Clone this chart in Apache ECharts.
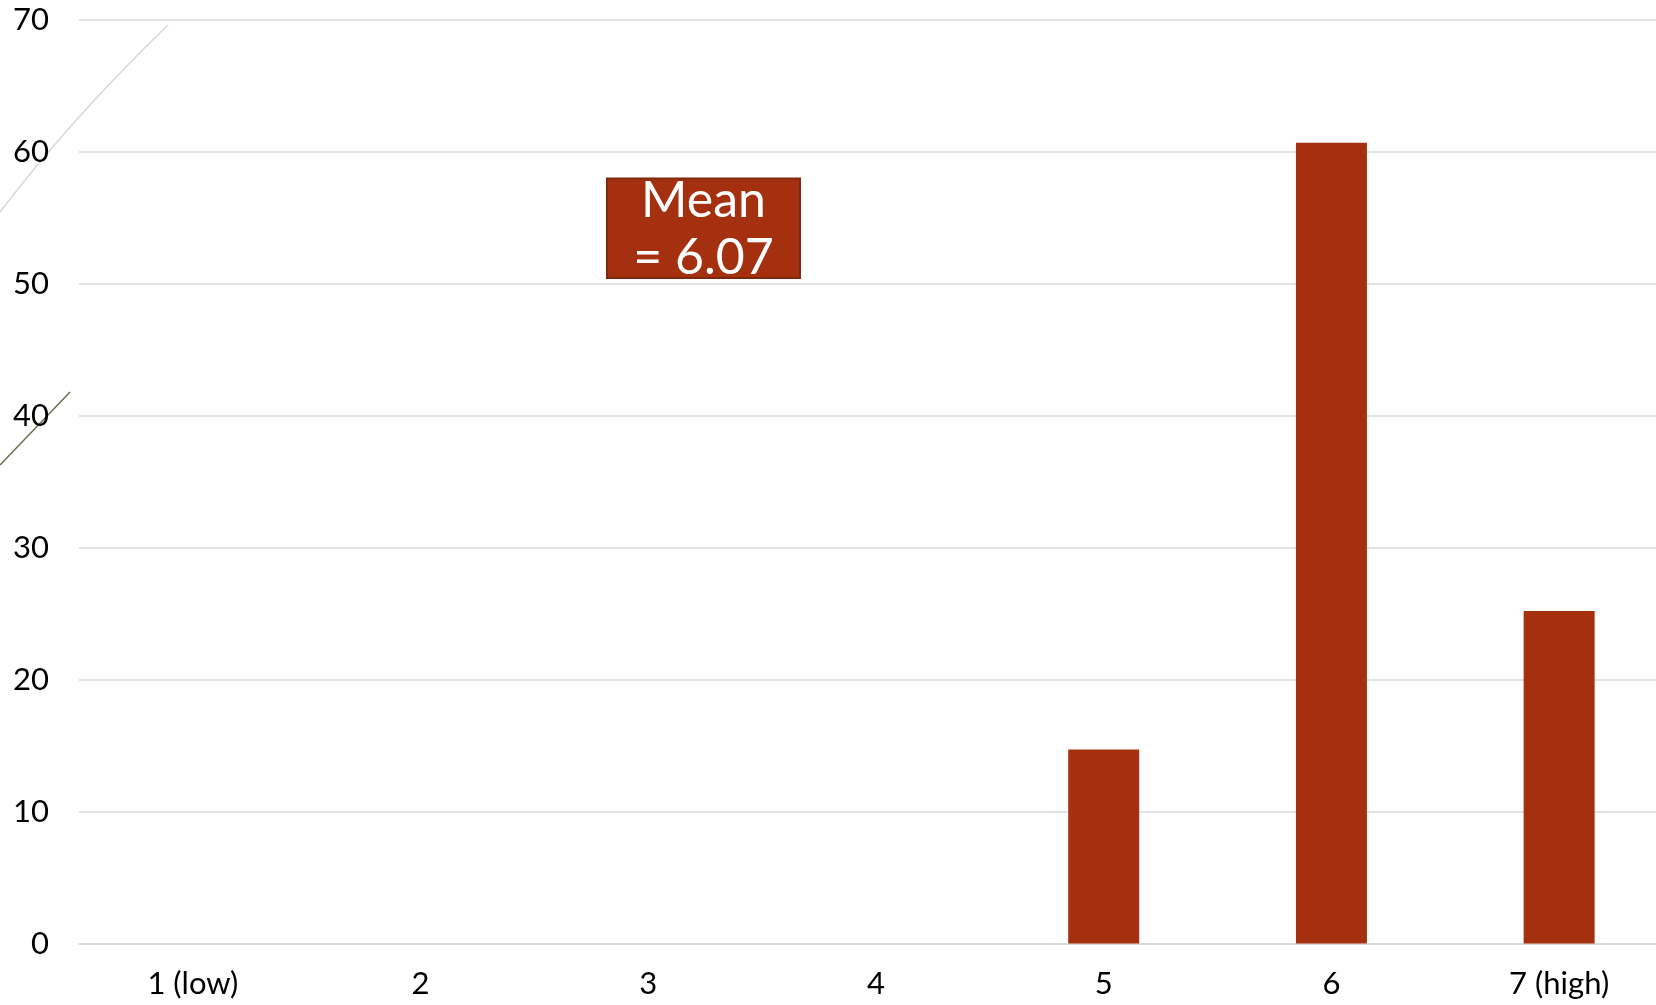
<!DOCTYPE html>
<html>
<head>
<meta charset="utf-8">
<style>
  html, body { margin: 0; padding: 0; background: #fff; }
  #chart { width: 1656px; height: 1005px; }
</style>
<script src="https://cdn.jsdelivr.net/npm/echarts@6/dist/echarts.min.js"></script>
</head>
<body>
<div id="chart"></div>
<script>
// rating categories and share of answers (%)
var categories = ['1 (low)', '2', '3', '4', '5', '6', '7 (high)']
var percents = [0, 0, 0, 0, 14.7, 60.7, 25.2]
var yTicks = [0, 10, 20, 30, 40, 50, 60, 70]
var meanLabel = ['Mean', '= 6.07']

var fontName = 'Lato, "Noto Sans", sans-serif'
var chart = echarts.init(document.getElementById('chart'))

chart.setOption({
  backgroundColor: '#ffffff',
  animation: false,
  grid: {
    left: 79,
    top: 20,
    right: -17, // plot area runs past the right edge of the picture
    bottom: 61.5,
    containLabel: false,
    outerBoundsMode: 'none'
  },
  xAxis: {
    type: 'category',
    data: categories,
    axisTick: { show: false },
    axisLine: { show: true, lineStyle: { color: '#d9d9d9', width: 1.5 } },
    axisLabel: {
      color: '#000',
      fontFamily: fontName,
      fontSize: 31,
      margin: 25
    }
  },
  yAxis: {
    type: 'value',
    min: yTicks[0],
    max: yTicks[yTicks.length - 1],
    interval: 10,
    axisLine: { show: false },
    axisTick: { show: false },
    splitLine: { lineStyle: { color: '#d9d9d9', width: 1.5 } },
    axisLabel: {
      color: '#000',
      fontFamily: fontName,
      fontSize: 31,
      margin: 30
    }
  },
  series: [{
    type: 'bar',
    data: percents,
    barWidth: 71,
    itemStyle: { color: '#a5300f' }
  }],
  graphic: [
    // slide decoration lines in the top-left corner
    {
      type: 'bezierCurve',
      silent: true,
      shape: { x1: 0, y1: 212, cpx1: 70, cpy1: 120, x2: 168, y2: 25 },
      style: { stroke: '#d8d8d0', lineWidth: 1.5, fill: null }
    },
    {
      type: 'line',
      silent: true,
      shape: { x1: 0, y1: 465, x2: 70, y2: 392 },
      style: { stroke: '#6e6a50', lineWidth: 1.5 }
    },
    // mean annotation box
    {
      type: 'rect',
      shape: { x: 607, y: 178.5, width: 193, height: 99.5 },
      style: { fill: '#a5300f', stroke: '#7d2810', lineWidth: 2 },
      z: 10
    },
    {
      type: 'text',
      z: 11,
      style: {
        x: 703.5,
        y: 229,
        text: meanLabel.join('\n'),
        fill: '#fff',
        font: '50px ' + fontName,
        lineHeight: 57,
        align: 'center',
        verticalAlign: 'middle'
      }
    }
  ]
})
</script>
</body>
</html>
